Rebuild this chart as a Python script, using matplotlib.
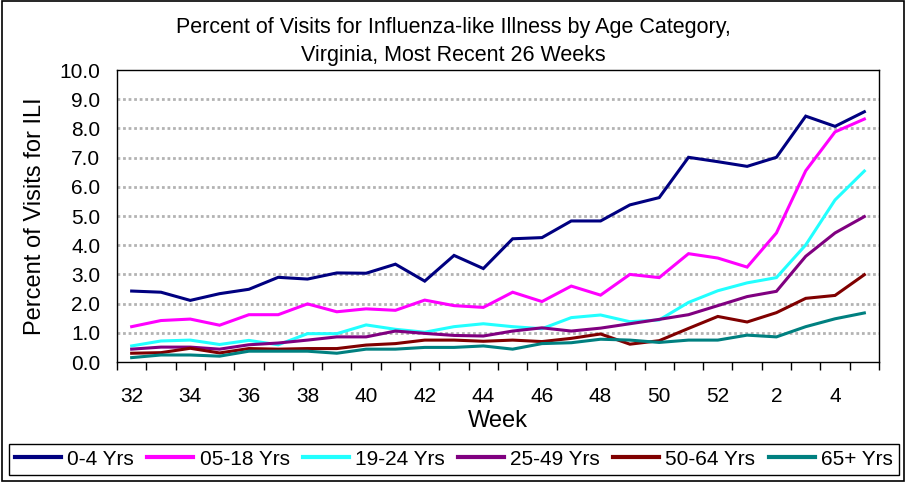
import numpy as np
import matplotlib.pyplot as plt
from matplotlib.patches import Rectangle

plt.rcParams['font.family'] = ['Liberation Sans', 'DejaVu Sans']

weeks = [32, 33, 34, 35, 36, 37, 38, 39, 40, 41, 42, 43, 44, 45, 46, 47, 48,
         49, 50, 51, 52, 1, 2, 3, 4, 5]

age_0_4 = [2.43, 2.39, 2.11, 2.34, 2.49, 2.90, 2.84, 3.05, 3.04, 3.35, 2.77, 3.65, 3.20,
           4.22, 4.26, 4.83, 4.83, 5.38, 5.63, 7.01, 6.86, 6.70, 7.01, 8.42, 8.07, 8.57]
age_5_18 = [1.21, 1.42, 1.47, 1.26, 1.62, 1.62, 1.99, 1.72, 1.82, 1.77, 2.12, 1.93, 1.87,
            2.39, 2.07, 2.60, 2.29, 3.00, 2.89, 3.71, 3.56, 3.25, 4.42, 6.55, 7.88, 8.32]
age_19_24 = [0.55, 0.72, 0.75, 0.60, 0.74, 0.59, 0.97, 0.97, 1.27, 1.12, 1.02, 1.21, 1.31,
             1.21, 1.14, 1.52, 1.61, 1.38, 1.44, 2.04, 2.44, 2.71, 2.89, 4.01, 5.55, 6.54]
age_25_49 = [0.44, 0.51, 0.51, 0.44, 0.59, 0.65, 0.75, 0.86, 0.86, 1.06, 0.98, 0.91, 0.89,
             1.06, 1.17, 1.06, 1.16, 1.31, 1.46, 1.62, 1.93, 2.24, 2.42, 3.62, 4.42, 4.98]
age_50_64 = [0.30, 0.32, 0.47, 0.31, 0.46, 0.44, 0.46, 0.46, 0.58, 0.63, 0.75, 0.75, 0.71,
             0.75, 0.70, 0.81, 0.96, 0.61, 0.73, 1.15, 1.56, 1.37, 1.69, 2.18, 2.28, 2.99]
age_65 = [0.15, 0.24, 0.24, 0.20, 0.37, 0.37, 0.37, 0.30, 0.44, 0.44, 0.50, 0.50, 0.55,
          0.44, 0.63, 0.66, 0.78, 0.75, 0.67, 0.75, 0.75, 0.92, 0.86, 1.21, 1.48, 1.68]

series = [
    ("0-4 Yrs", age_0_4, "#000080"),
    ("05-18 Yrs", age_5_18, "#ff00ff"),
    ("19-24 Yrs", age_19_24, "#22ffff"),
    ("25-49 Yrs", age_25_49, "#800080"),
    ("50-64 Yrs", age_50_64, "#800000"),
    ("65+ Yrs", age_65, "#008080"),
]

fig = plt.figure(figsize=(9.07, 4.82), dpi=100)
ax = fig.add_axes([117/907, 1 - 362/482, 762/907, 292/482])

x = np.arange(len(weeks))
for name, vals, col in series:
    ax.plot(x, vals, color=col, lw=2.2, label=name, solid_joinstyle='miter')

ax.set_xlim(-0.5, len(weeks) - 0.5)
ax.set_ylim(0, 10)
ax.set_yticks(np.arange(0, 11, 1))
ax.set_yticklabels([f"{v:.1f}" for v in range(11)], fontsize=15)
ax.tick_params(axis='y', length=0, pad=12)

ax.set_xticks(x[::2])
ax.set_xticklabels([str(w) for w in weeks[::2]], fontsize=15)
ax.set_xticks(np.arange(-0.5, len(weeks), 1), minor=True)
ax.tick_params(axis='x', which='major', length=0, pad=18)
ax.tick_params(axis='x', which='minor', length=6, width=1, direction='out')

for v in range(1, 10):
    ax.axhline(v, color='#b3b3b3', lw=2, dashes=(1, 1), zorder=0)

for s in ax.spines.values():
    s.set_linewidth(1)
    s.set_color('black')

ax.set_xlabel("Week", fontsize=17, labelpad=3)
ax.set_ylabel("Percent of Visits for ILI", fontsize=17, labelpad=10)
fig.text(0.5, 1 - 27/482, "Percent of Visits for Influenza-like Illness by Age Category,",
         ha='center', va='center', fontsize=15.5)
fig.text(0.5, 1 - 55/482, "Virginia, Most Recent 26 Weeks",
         ha='center', va='center', fontsize=15.5)

leg = fig.legend(loc='lower left', bbox_to_anchor=(9/907, 7/482, 890/907, 37/482),
                 mode='expand', ncol=6, fontsize=15, handlelength=2.2,
                 handletextpad=0.3, borderaxespad=0, borderpad=0.3, fancybox=False,
                 framealpha=1)
leg.get_frame().set_edgecolor('black')
leg.get_frame().set_linewidth(1)
for line in leg.get_lines():
    line.set_linewidth(3)

fig.patches.append(Rectangle((0.002, 0.003), 0.995, 0.994, transform=fig.transFigure,
                             fill=False, edgecolor='black', lw=1.2))

fig.savefig("out.png", dpi=100)
